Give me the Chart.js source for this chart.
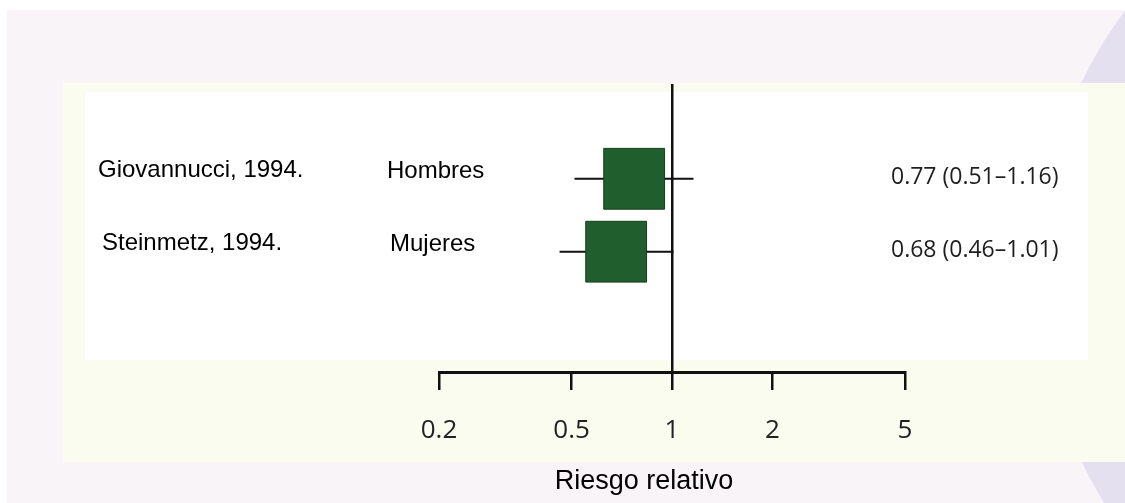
<!DOCTYPE html>
<html>
<head>
<meta charset="utf-8">
<script src="https://cdn.jsdelivr.net/npm/chart.js@4.4.1/dist/chart.umd.min.js"></script>
<style>
  html, body { margin: 0; padding: 0; background: #ffffff; }
  #wrap { width: 1125px; height: 503px; position: relative; }
</style>
</head>
<body>
<div id="wrap"><canvas id="c" width="1125" height="503"></canvas></div>
<script>
// ---- data ----
const studies = ['Giovannucci, 1994.', 'Steinmetz, 1994.'];
const groups = ['Hombres', 'Mujeres'];
const rr = [0.77, 0.68];
const lower = [0.51, 0.46];
const upper = [1.16, 1.01];
const ciLabels = ['0.77 (0.51–1.16)', '0.68 (0.46–1.01)'];
const xTicks = [0.2, 0.5, 1, 2, 5];
const axisTitle = 'Riesgo relativo';

const rows = studies.map((s, i) => i + 1);

const backgroundPlugin = {
  id: 'bg',
  beforeDraw(chart) {
    const ctx = chart.ctx;
    ctx.save();
    ctx.fillStyle = '#ffffff';
    ctx.fillRect(0, 0, 1125, 503);
    ctx.fillStyle = '#f8f4f8';
    ctx.fillRect(7, 10, 1118, 493);
    // decorative lavender ring
    ctx.beginPath();
    ctx.arc(1474, 272, 436, 0, Math.PI * 2);
    ctx.arc(1474, 272, 378, 0, Math.PI * 2, true);
    ctx.fillStyle = '#e4e0f0';
    ctx.fill('evenodd');
    // pale panel
    ctx.fillStyle = '#fbfcf0';
    ctx.fillRect(63, 83, 1062, 379);
    ctx.fillStyle = '#ffffff';
    ctx.fillRect(85, 92, 1003, 268);
    ctx.restore();
  }
};

const textPlugin = {
  id: 'texts',
  afterDraw(chart) {
    const ctx = chart.ctx;
    const ys = chart.scales.y;
    ctx.save();
    ctx.textBaseline = 'middle';
    ctx.textAlign = 'left';
    rows.forEach((r, i) => {
      const py = ys.getPixelForValue(r);
      ctx.fillStyle = '#000000';
      ctx.font = '24px "Liberation Sans", Arial, sans-serif';
      ctx.fillText(studies[i], i === 0 ? 98 : 102, py - 8);
      ctx.fillText(groups[i], i === 0 ? 387 : 390, py - 7);
      ctx.fillStyle = '#1e1e1e';
      ctx.font = '23px "Open Sans", sans-serif';
      ctx.fillText(ciLabels[i], 891, py - 1);
    });
    ctx.fillStyle = '#000000';
    ctx.font = '27px "Liberation Sans", Arial, sans-serif';
    ctx.textAlign = 'center';
    ctx.textBaseline = 'alphabetic';
    ctx.fillText(axisTitle, 644, 489);
    ctx.restore();
  }
};

new Chart(document.getElementById('c'), {
  type: 'scatter',
  data: {
    datasets: [
      {
        label: 'RR',
        order: 0,
        data: rr.map((v, i) => ({ x: v, y: rows[i] })),
        pointStyle: 'rect',
        pointRadius: 43,
        pointHoverRadius: 43,
        backgroundColor: '#215e2e',
        borderColor: '#163d1e',
        borderWidth: 1
      },
      ...rows.map((r, i) => ({
        type: 'line',
        label: 'IC ' + studies[i],
        order: 1,
        data: [{ x: lower[i], y: r }, { x: upper[i], y: r }],
        borderColor: '#111111',
        borderWidth: 2,
        pointRadius: 0,
        showLine: true,
        fill: false
      }))
    ]
  },
  options: {
    responsive: false,
    animation: false,
    devicePixelRatio: 1,
    layout: { padding: { left: 439, right: 220, top: 84, bottom: 0 } },
    plugins: { legend: { display: false }, tooltip: { enabled: false }, title: { display: false } },
    scales: {
      x: {
        type: 'logarithmic',
        position: 'bottom',
        min: 0.2,
        max: 5,
        afterBuildTicks(scale) { scale.ticks = xTicks.map(v => ({ value: v })); },
        afterFit(scale) { scale.height = 131; },
        ticks: {
          autoSkip: false,
          maxRotation: 0,
          padding: 25,
          color: '#222222',
          font: { family: '"Open Sans", sans-serif', size: 26 },
          callback: (v) => String(v)
        },
        grid: {
          drawOnChartArea: true,
          color: (c) => (c.tick && c.tick.value === 1 ? '#111111' : 'rgba(0,0,0,0)'),
          lineWidth: 2.5,
          tickColor: '#111111',
          tickWidth: 2.5,
          tickLength: 18
        },
        border: { display: true, color: '#111111', width: 3 }
      },
      y: {
        type: 'linear',
        reverse: true,
        min: -0.3,
        max: 3.65,
        display: false
      }
    }
  },
  plugins: [backgroundPlugin, textPlugin]
});
</script>
</body>
</html>
